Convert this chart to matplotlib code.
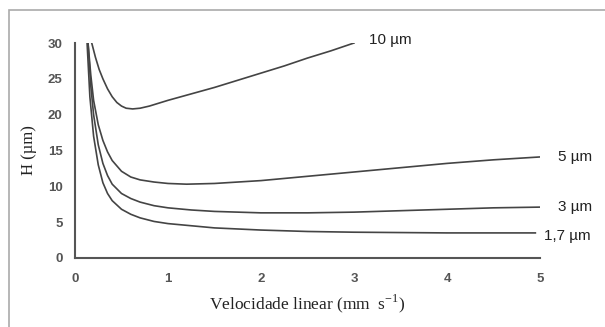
import matplotlib

matplotlib.use("Agg")
import matplotlib.pyplot as plt
from matplotlib.patches import Rectangle

# linear velocity (mm/s) and plate height H (um) for each particle size
v_10 = [0.18, 0.22, 0.26, 0.30, 0.35, 0.40, 0.45, 0.50, 0.55, 0.62, 0.70, 0.80,
        1.00, 1.25, 1.50, 1.75, 2.00, 2.25, 2.50, 2.75, 3.00]
h_10 = [30.0, 28.0, 26.3, 25.0, 23.6, 22.5, 21.7, 21.2, 20.9, 20.8, 20.9, 21.2,
        22.0, 22.9, 23.8, 24.8, 25.8, 26.8, 27.9, 28.9, 30.0]

v_5 = [0.14, 0.17, 0.20, 0.25, 0.30, 0.35, 0.40, 0.50, 0.60, 0.70, 0.85, 1.00,
       1.20, 1.50, 2.00, 2.50, 3.00, 3.50, 4.00, 4.50, 5.00]
h_5 = [30.0, 25.5, 22.0, 18.6, 16.4, 14.8, 13.6, 12.1, 11.3, 10.9, 10.6, 10.4,
       10.3, 10.4, 10.8, 11.4, 12.0, 12.6, 13.2, 13.7, 14.1]

v_3 = [0.14, 0.17, 0.20, 0.25, 0.30, 0.35, 0.40, 0.50, 0.60, 0.70, 0.85, 1.00,
       1.25, 1.50, 2.00, 2.50, 3.00, 3.50, 4.00, 4.50, 5.00]
h_3 = [30.0, 24.0, 20.0, 15.8, 13.2, 11.5, 10.3, 9.0, 8.3, 7.8, 7.3, 7.0,
       6.7, 6.5, 6.3, 6.3, 6.4, 6.6, 6.8, 7.0, 7.1]

v_17 = [0.13, 0.16, 0.20, 0.25, 0.30, 0.35, 0.40, 0.50, 0.60, 0.70, 0.85, 1.00,
        1.25, 1.50, 2.00, 2.50, 3.00, 3.50, 4.00, 4.50, 4.95]
h_17 = [30.0, 22.5, 17.0, 13.0, 10.5, 9.0, 8.0, 6.8, 6.1, 5.6, 5.1, 4.8,
        4.5, 4.2, 3.9, 3.7, 3.6, 3.55, 3.5, 3.5, 3.5]

series = [
    (v_10, h_10, "10 µm", (3.16, 30.4)),
    (v_5, h_5, "5 µm", (5.19, 14.1)),
    (v_3, h_3, "3 µm", (5.19, 7.1)),
    (v_17, h_17, "1,7 µm", (5.04, 3.1)),
]

line_color = "#444444"
tick_color = "#555555"

fig = plt.figure(figsize=(6.05, 3.27), dpi=100)
# grey frame around the whole panel
fig.patches.append(
    Rectangle((9 / 605, -0.2), 1.2, 1.2 - 10 / 327,
              transform=fig.transFigure, fill=False,
              edgecolor="#aaaaaa", linewidth=1.2)
)
ax = fig.add_axes([75 / 605, 1 - 258 / 327, 465 / 605, 215 / 327])

for v, h, label, (lx, ly) in series:
    ax.plot(v, h, color=line_color, linewidth=1.2)
    ax.text(lx, ly, label, fontsize=11, color="#222222", family="Liberation Sans",
            ha="left", va="center", clip_on=False)

ax.set_xlim(0, 5)
ax.set_ylim(0, 30)
ax.set_xticks(range(0, 6))
ax.set_yticks(range(0, 31, 5))
ax.tick_params(length=0, colors=tick_color, labelsize=9.5)
ax.tick_params(axis="y", pad=9)
ax.tick_params(axis="x", pad=11)
for lbl in ax.get_xticklabels() + ax.get_yticklabels():
    lbl.set_family("Liberation Sans")
    lbl.set_fontweight("bold")

for side in ("top", "right"):
    ax.spines[side].set_visible(False)
for side in ("left", "bottom"):
    ax.spines[side].set_color(tick_color)
    ax.spines[side].set_linewidth(1.5)

ax.set_xlabel("Velocidade linear (mm  s$^{\\mathregular{-1}}$)",
              family="Liberation Serif", fontsize=12.5, color="#222222", labelpad=5)
ax.set_ylabel("H (µm)", family="Liberation Serif", fontsize=12,
              color="#222222", labelpad=8)

fig.savefig("out.png", dpi=100)
